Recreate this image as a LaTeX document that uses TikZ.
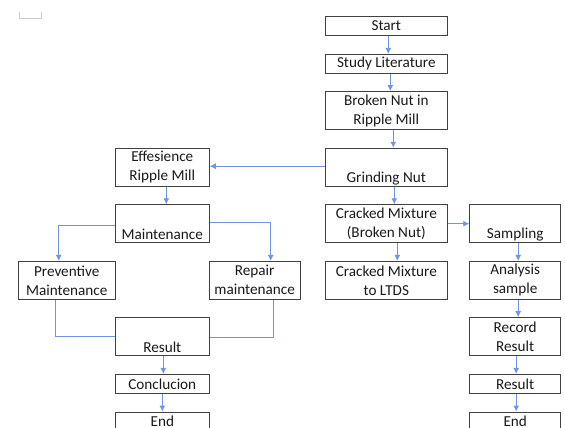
\documentclass[tikz,border=0pt]{standalone}
\usepackage{fontspec}
\setmainfont{Carlito}
\usetikzlibrary{arrows.meta}
\tikzset{>={Latex[length=6pt,width=6pt]}}
\definecolor{lineblue}{RGB}{112,146,232}
\definecolor{boxgray}{RGB}{64,64,64}
\tikzstyle{box}=[draw=boxgray,line width=0.9pt,inner sep=0pt,align=center,
  minimum height=38pt,font=\fontsize{15.2}{19}\selectfont,text=black!90]
\tikzstyle{sbox}=[box,minimum height=19pt]
\tikzstyle{bline}=[lineblue,line width=0.9pt]
\def\wm{122pt}
\def\wl{94pt}
\def\wr{91pt}

\begin{document}
\begin{tikzpicture}[x=1pt,y=-1pt]
  \useasboundingbox (0,0) rectangle (565,428);

  % MARK
  \draw[black!20] (19,12) -- (19,18) -- (41,18) -- (41,12);

  % MIDDLE COLUMN
  \node[sbox,minimum width=\wm] (Start) at (386.3,25.7) {Start};
  \node[sbox,minimum width=\wm] (Study) at (386.3,63.8) {Study Literature};
  \node[box,minimum width=\wm] (Broken) at (386.3,110.5) {Broken Nut in\\Ripple Mill};
  \node[box,minimum width=\wm] (Grind) at (386.3,167.2) {\strut\\Grinding Nut};
  \node[box,minimum width=\wm] (Cracked) at (386.3,223.7) {Cracked Mixture\\(Broken Nut)};
  \node[box,minimum width=\wm] (LTDS) at (386.3,280.3) {Cracked Mixture\\to LTDS};

  % RIGHT COLUMN
  \node[box,minimum width=\wr] (Sampling) at (515.2,223.7) {\strut\\Sampling};
  \node[box,minimum width=\wr] (Analysis) at (515.2,280.3) {Analysis\\sample};
  \node[box,minimum width=\wr] (Record) at (515.2,336.5) {Record\\Result};
  \node[sbox,minimum width=\wr] (ResultR) at (515.2,383.8) {Result};
  \node[sbox,minimum width=\wr] (EndR) at (515.2,421.5) {End};

  % LEFT COLUMN
  \node[box,minimum width=\wl] (Eff) at (162.3,167.2) {Effesience\\Ripple Mill};
  \node[box,minimum width=\wl] (Maint) at (162.3,223.7) {\strut\\Maintenance};
  \node[box,minimum width=97pt] (Prev) at (66.7,280.3) {Preventive\\Maintenance};
  \node[box,minimum width=\wr] (Repair) at (254.7,280.3) {Repair\\maintenance};
  \node[box,minimum width=\wl] (ResultL) at (162.3,336.5) {\strut\\Result};
  \node[sbox,minimum width=\wl] (Concl) at (162.3,383.8) {Conclucion};
  \node[sbox,minimum width=\wl] (EndL) at (162.3,421.5) {End};

  % ARROWS
  \draw[bline,->] ([xshift=2]Start.south) -- ([xshift=2]Study.north);
  \draw[bline,->] ([xshift=4]Study.south) -- ([xshift=4]Broken.north);
  \draw[bline,->] ([xshift=7]Broken.south) -- ([xshift=7]Grind.north);
  \draw[bline,->] ([xshift=8]Grind.south) -- ([xshift=8]Cracked.north);
  \draw[bline,->] ([xshift=11]Cracked.south) -- ([xshift=11]LTDS.north);
  \draw[bline,->] (Cracked.east) -- (Sampling.west);
  \draw[bline,->] ([xshift=3]Sampling.south) -- ([xshift=3]Analysis.north);
  \draw[bline,->] ([xshift=3]Analysis.south) -- ([xshift=3]Record.north);
  \draw[bline,->] ([xshift=1]Record.south) -- ([xshift=1]ResultR.north);
  \draw[bline,->] ([xshift=1]ResultR.south) -- ([xshift=1]EndR.north);
  \draw[bline,->] ([yshift=1]Grind.west) -- ([yshift=1]Eff.east);
  \draw[bline,->] ([xshift=4]Eff.south) -- ([xshift=4]Maint.north);
  \draw[bline,->] ([yshift=-2]Maint.west) -| ([xshift=-8]Prev.north);
  \draw[bline,->] ([yshift=1]Maint.east) -| ([xshift=16]Repair.north);
  \draw[bline] ([xshift=-11]Prev.south) |- (ResultL.west);
  \draw[bline] ([xshift=19]Repair.south) |- ([yshift=-1]ResultL.east);
  \draw[bline,->] ([xshift=1]ResultL.south) -- ([xshift=1]Concl.north);
  \draw[bline,->] (Concl.south) -- (EndL.north);
\end{tikzpicture}
\end{document}
